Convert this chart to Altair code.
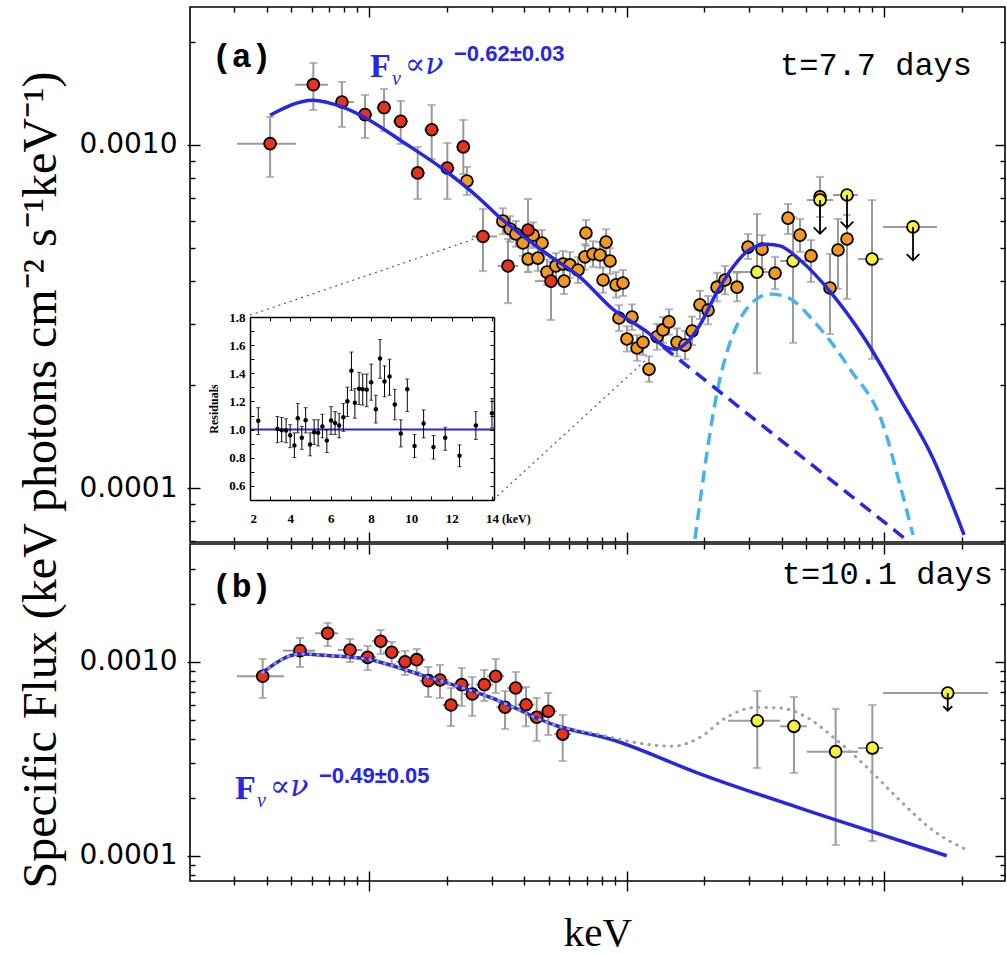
import altair as alt
import pandas as pd

# ---------------- panel (a): t = 7.7 days ----------------
a_red_E = [0.413, 0.608, 0.785, 0.965, 1.144, 1.328, 1.752, 1.546, 2.014, 2.324, 2.771, 3.466, 4.145, 5.09]
a_red_F = [1.009e-3, 1.499e-3, 1.334e-3, 1.226e-3, 1.285e-3, 1.172e-3, 1.108e-3, 8.29e-4, 8.57e-4, 9.87e-4,
           5.41e-4, 4.44e-4, 5.65e-4, 4.01e-4]
a_red_Elo = [0.307, 0.516, 0.745, 0.90, 1.07, 1.24, 1.64, 1.45, 1.89, 2.18, 2.51, 3.17, 3.95, 4.41]
a_red_Ehi = [0.521, 0.693, 0.874, 1.03, 1.22, 1.42, 1.87, 1.65, 2.15, 2.48, 3.14, 3.79, 4.35, 5.77]
a_red_Flo = [8.07e-4, 1.265e-3, 1.129e-3, 1.048e-3, 1.099e-3, 1.007e-3, 9.10e-4, 6.96e-4, 6.96e-4, 8.23e-4,
             4.29e-4, 3.46e-4, 4.26e-4, 3.09e-4]
a_red_Fhi = [1.207e-3, 1.734e-3, 1.527e-3, 1.398e-3, 1.456e-3, 1.344e-3, 1.308e-3, 9.87e-4, 1.014e-3, 1.183e-3,
             6.51e-4, 5.32e-4, 6.96e-4, 4.56e-4]

a_org_E = [2.40, 3.31, 3.53, 3.72, 3.96, 4.34, 4.70, 4.15, 4.53, 4.91, 5.32, 5.67, 6.03, 6.48, 5.72, 6.90, 7.41,
           7.89, 8.63, 6.96, 8.33, 8.11, 9.11, 9.69, 9.35, 10.50, 10.04, 10.99, 11.59, 12.23, 13.14, 13.86, 14.62,
           15.71, 16.87, 17.97, 19.29, 20.73, 22.46, 24.13, 26.86, 29.64, 33.60, 37.74, 42.39, 47.19, 52.07, 61.70,
           66.28, 71.83, 56.43]
a_org_F = [7.85e-4, 6.00e-4, 5.69e-4, 5.50e-4, 5.18e-4, 5.46e-4, 5.18e-4, 4.65e-4, 4.68e-4, 4.26e-4, 4.44e-4,
           4.50e-4, 4.47e-4, 4.32e-4, 4.01e-4, 4.72e-4, 4.81e-4, 4.78e-4, 4.59e-4, 5.54e-4, 5.21e-4, 4.04e-4,
           3.91e-4, 3.96e-4, 3.13e-4, 3.15e-4, 2.72e-4, 2.56e-4, 2.66e-4, 2.22e-4, 2.76e-4, 2.89e-4, 3.05e-4,
           2.66e-4, 2.61e-4, 2.87e-4, 3.42e-4, 3.30e-4, 3.85e-4, 4.04e-4, 3.85e-4, 5.04e-4, 4.97e-4, 4.23e-4,
           6.12e-4, 5.46e-4, 4.75e-4, 3.83e-4, 4.94e-4, 5.32e-4, 7.06e-4]
a_org_Fhi = [8.63e-4, 6.54e-4, 6.20e-4, 6.00e-4, 5.65e-4, 5.95e-4, 5.65e-4, 5.07e-4, 5.10e-4, 4.64e-4, 4.84e-4,
             4.91e-4, 4.87e-4, 4.71e-4, 4.37e-4, 5.14e-4, 5.24e-4, 5.21e-4, 5.00e-4, 6.04e-4, 5.68e-4, 4.40e-4,
             4.26e-4, 4.32e-4, 3.41e-4, 3.43e-4, 2.96e-4, 2.79e-4, 2.90e-4, 2.42e-4, 3.01e-4, 3.15e-4, 3.32e-4,
             2.92e-4, 2.87e-4, 3.16e-4, 3.76e-4, 3.63e-4, 4.24e-4, 4.44e-4, 4.24e-4, 5.50e-4, 5.46e-4, 4.72e-4,
             6.73e-4, 6.09e-4, 5.28e-4, 4.81e-4, 6.09e-4, 6.25e-4, 8.07e-4]
a_org_Flo = [7.15e-4, 5.50e-4, 5.22e-4, 5.05e-4, 4.75e-4, 5.01e-4, 4.75e-4, 4.27e-4, 4.29e-4, 3.91e-4, 4.07e-4,
             4.13e-4, 4.10e-4, 3.96e-4, 3.68e-4, 4.33e-4, 4.41e-4, 4.39e-4, 4.21e-4, 5.08e-4, 4.78e-4, 3.71e-4,
             3.59e-4, 3.63e-4, 2.87e-4, 2.89e-4, 2.50e-4, 2.35e-4, 2.44e-4, 2.04e-4, 2.53e-4, 2.65e-4, 2.80e-4,
             2.42e-4, 2.37e-4, 2.61e-4, 3.11e-4, 3.00e-4, 3.50e-4, 3.67e-4, 3.50e-4, 4.65e-4, 4.35e-4, 3.80e-4,
             5.50e-4, 4.88e-4, 3.99e-4, 2.81e-4, 3.81e-4, 3.56e-4, 6.17e-4]

a_yel_E = [32.13, 44.33, 56.43, 71.83, 89.83, 129.6]
a_yel_F = [4.26e-4, 4.59e-4, 6.91e-4, 7.15e-4, 4.65e-4, 5.77e-4]
a_yel_Elo = [25.9, 39.5, 50.2, 63.4, 79.3, 99.1]
a_yel_Ehi = [39.5, 50.2, 63.4, 79.3, 99.1, 160.6]
a_yel_Flo = [2.16e-4, 2.65e-4, None, None, 2.38e-4, None]
a_yel_Fhi = [6.29e-4, 6.17e-4, None, None, 6.91e-4, None]
a_yel_tip = [None, None, 5.51e-4, 5.73e-4, None, 4.61e-4]   # upper-limit arrow ends

a_model_E = [0.413, 0.606, 0.785, 0.982, 1.355, 1.938, 2.698, 3.142, 4.913, 6.598, 8.863, 12.02, 14.11, 15.43,
             17.18, 19.29, 22.46, 25.92, 30.18, 35.12, 39.47, 47.19, 63.37, 85.90, 115.4, 155.0, 204.6]
a_model_F = [1.221e-3, 1.350e-3, 1.291e-3, 1.193e-3, 1.020e-3, 8.51e-4, 6.96e-4, 6.25e-4, 4.81e-4, 4.12e-4,
             3.32e-4, 2.85e-4, 2.58e-4, 2.54e-4, 2.66e-4, 2.99e-4, 3.73e-4, 4.41e-4, 4.97e-4, 5.14e-4, 5.08e-4,
             4.62e-4, 3.65e-4, 2.66e-4, 1.82e-4, 1.22e-4, 7.30e-5]
a_pl_E = [13.86, 125.0]
a_pl_F = [2.58e-4, 6.97e-5]
a_hump_E = [18.45, 19.29, 20.54, 22.46, 24.56, 27.60, 30.99, 36.08, 42.01, 54.94, 73.80, 99.1, 115.4, 129.6]
a_hump_F = [7.10e-5, 9.10e-5, 1.27e-4, 1.90e-4, 2.49e-4, 3.11e-4, 3.49e-4, 3.68e-4, 3.60e-4, 2.99e-4, 2.22e-4,
            1.53e-4, 1.02e-4, 7.30e-5]
conn_id = [0, 0, 1, 1]
conn_E = [0.345, 2.698, 3.03, 12.02]
conn_F = [3.19e-4, 5.39e-4, 9.22e-5, 2.38e-4]

# inset: residuals
res_E = [2.41, 3.36, 3.57, 3.79, 3.99, 4.20, 4.37, 4.57, 4.76, 4.98, 5.18, 5.38, 5.59, 5.81, 6.02, 6.22, 6.42,
         6.63, 6.83, 7.03, 7.20, 7.41, 7.59, 7.79, 8.01, 8.24, 8.45, 8.67, 8.92, 9.18, 9.48, 9.80, 10.16, 10.61,
         11.10, 11.68, 12.39, 13.20, 14.0]
res_R = [1.063, 1.005, 0.995, 0.993, 0.960, 0.888, 1.081, 0.942, 1.067, 0.895, 0.981, 0.977, 1.023, 0.923,
         1.065, 1.047, 1.030, 1.088, 1.202, 1.419, 1.191, 1.291, 1.286, 1.284, 1.337, 1.144, 1.505, 1.342,
         1.377, 1.179, 0.972, 1.286, 0.884, 1.044, 0.877, 0.942, 0.814, 1.030, 1.116]
res_hi = [1.156, 1.093, 1.086, 1.077, 1.035, 0.977, 1.186, 1.023, 1.156, 0.977, 1.070, 1.070, 1.109, 1.000,
          1.163, 1.128, 1.116, 1.186, 1.302, 1.551, 1.291, 1.407, 1.395, 1.395, 1.465, 1.244, 1.640, 1.453,
          1.500, 1.286, 1.070, 1.360, 0.965, 1.140, 0.958, 1.016, 0.891, 1.128, 1.221]
res_lo = [0.965, 0.907, 0.914, 0.907, 0.872, 0.802, 0.977, 0.860, 0.977, 0.814, 0.895, 0.884, 0.942, 0.837,
          0.965, 0.965, 0.942, 0.988, 1.093, 1.279, 1.081, 1.179, 1.174, 1.163, 1.209, 1.047, 1.365, 1.233,
          1.244, 1.070, 0.877, 1.128, 0.802, 0.942, 0.791, 0.853, 0.737, 0.930, 1.012]
res_ref_E = [2.0, 14.1]
res_ref_R = [1.0, 1.0]

# ---------------- panel (b): t = 10.1 days ----------------
b_red_E = [0.3866, 0.5395, 0.6912, 0.8437, 0.9885, 1.110, 1.225, 1.380, 1.532, 1.699, 1.887, 2.082, 2.291,
           2.519, 2.804, 3.105, 3.375, 3.713, 4.072, 4.479, 4.970, 5.652]
b_red_F = [8.44e-4, 1.144e-3, 1.406e-3, 1.153e-3, 1.057e-3, 1.279e-3, 1.122e-3, 1.003e-3, 1.028e-3, 8.01e-4,
           8.08e-4, 6.00e-4, 7.64e-4, 6.84e-4, 7.64e-4, 8.44e-4, 5.84e-4, 7.34e-4, 6.02e-4, 5.19e-4, 5.57e-4,
           4.25e-4]
b_red_Elo = [0.307, 0.4636, 0.617, 0.758, 0.915, 1.028, 1.134, 1.278, 1.419, 1.573, 1.747, 1.928, 2.121, 2.332,
             2.596, 2.875, 3.125, 3.438, 3.770, 4.147, 4.602, 5.233]
b_red_Ehi = [0.4677, 0.617, 0.758, 0.939, 1.068, 1.199, 1.323, 1.490, 1.655, 1.835, 2.038, 2.249, 2.474, 2.721,
             3.028, 3.353, 3.645, 4.010, 4.398, 4.837, 5.368, 6.104]
b_red_Fhi = [1.036e-3, 1.329e-3, 1.589e-3, 1.314e-3, 1.209e-3, 1.462e-3, 1.268e-3, 1.139e-3, 1.167e-3,
             9.42e-4, 9.65e-4, 7.34e-4, 9.31e-4, 8.37e-4, 9.09e-4, 1.036e-3, 7.09e-4, 8.88e-4, 7.43e-4, 6.52e-4,
             6.92e-4, 5.33e-4]
b_red_Flo = [6.52e-4, 9.42e-4, 1.209e-3, 1.0e-3, 9.09e-4, 1.100e-3, 9.76e-4, 8.57e-4, 8.88e-4, 6.60e-4,
             6.52e-4, 4.68e-4, 5.93e-4, 5.27e-4, 6.29e-4, 6.92e-4, 4.52e-4, 5.79e-4, 4.66e-4, 3.92e-4, 4.20e-4,
             3.09e-4]

b_yel_E = [32.2, 44.7, 64.9, 90.1, 176.8]
b_yel_F = [4.98e-4, 4.66e-4, 3.45e-4, 3.60e-4, 6.92e-4]
b_yel_Elo = [24.8, 39.5, 50.2, 79.3, 99.1]
b_yel_Ehi = [39.5, 50.2, 79.3, 99.1, 253.5]
b_yel_Flo = [2.84e-4, 2.68e-4, 1.14e-4, 1.195e-4, None]
b_yel_Fhi = [7.09e-4, 6.60e-4, 5.73e-4, 6.00e-4, None]
b_yel_tip = [None, None, None, None, 5.61e-4]

b_model_E = [0.3866, 0.5395, 0.7058, 0.9796, 1.625, 2.951, 5.357, 8.63, 19.29, 63.55, 175.2]
b_model_F = [8.85e-4, 1.100e-3, 1.078e-3, 1.036e-3, 8.50e-4, 6.58e-4, 4.69e-4, 4.01e-4, 2.65e-4, 1.55e-4, 1.003e-4]
b_dot_E = [0.3866, 0.5395, 0.7058, 0.9796, 1.625, 2.951, 5.357, 7.89, 10.63, 15.20, 19.29, 24.49, 32.04, 39.47,
           50.10, 63.55, 85.67, 115.4, 155.4, 206.4]
b_dot_F = [8.85e-4, 1.100e-3, 1.078e-3, 1.036e-3, 8.50e-4, 6.58e-4, 4.69e-4, 4.22e-4, 3.86e-4, 3.68e-4, 4.09e-4,
           5.19e-4, 5.84e-4, 5.79e-4, 5.19e-4, 4.09e-4, 2.87e-4, 1.93e-4, 1.35e-4, 1.087e-4]

# ---------------- axes ----------------
X_DOM = [0.2018, 295.0]
YA_DOM = [6.96e-5, 2.525e-3]
YB_DOM = [7.43e-5, 4.057e-3]
MAJ_X = [1, 10, 100]
MIN_X = [0.3, 0.4, 0.5, 0.6, 0.7, 0.8, 0.9, 2, 3, 4, 5, 6, 7, 8, 9, 20, 30, 40, 50, 60, 70, 80, 90, 200]
MAJ_Y = [1e-4, 1e-3]
MIN_YA = [7e-5, 8e-5, 9e-5, 2e-4, 3e-4, 4e-4, 5e-4, 6e-4, 7e-4, 8e-4, 9e-4, 2e-3]
MIN_YB = [8e-5, 9e-5, 2e-4, 3e-4, 4e-4, 5e-4, 6e-4, 7e-4, 8e-4, 9e-4, 2e-3, 3e-3]
IX_DOM = [2.0, 14.1]
IY_DOM = [0.5, 1.8]
IX_LAB = [2, 4, 6, 8, 10, 12, 14]
IY_LAB = [0.6, 0.8, 1.0, 1.2, 1.4, 1.6, 1.8]
IX_TCK = [2, 3, 4, 5, 6, 7, 8, 9, 10, 11, 12, 13, 14]
IY_TCK = [0.5, 0.6, 0.7, 0.8, 0.9, 1.0, 1.1, 1.2, 1.3, 1.4, 1.5, 1.6, 1.7, 1.8]

W, HA, HB = 815, 535, 337
GREY = "#9a9a9a"
BLUE = "#2626e6"
LBLUE = "#45b4ee"
RED, ORG, YEL = "#e8321c", "#f39a1e", "#f6f33a"
DUMMY = pd.DataFrame({"x": [1.0], "y": [1e-3]})
ONE = pd.DataFrame({"a": [0]})


def sx():
    return alt.Scale(type="log", domain=X_DOM, nice=False)


def sy(dom):
    return alt.Scale(type="log", domain=dom, nice=False)


def ex(f):
    return alt.X(f, type="quantitative", scale=sx(), axis=None)


def ey(f, dom):
    return alt.Y(f, type="quantitative", scale=sy(dom), axis=None)


def tick_axis(orient, offset, values, size):
    return alt.Axis(orient=orient, offset=offset, values=values, tickSize=size, tickWidth=1.4,
                    tickColor="black", labels=False, domain=False, grid=False, title=None, zindex=2)


def axis_layer(dom, xaxis, yaxis):
    return alt.Chart(DUMMY).mark_point(opacity=0).encode(
        x=alt.X("x:Q", scale=sx(), axis=xaxis),
        y=alt.Y("y:Q", scale=sy(dom), axis=yaxis))


def frames(groups):
    pts, xe, ye, caps, ul = [], [], [], [], []
    for g, E, F, Elo, Ehi, Flo, Fhi, tip in groups:
        for i in range(len(E)):
            pts.append({"E": E[i], "F": F[i], "g": g})
            if Elo is not None:
                xe.append({"lo": Elo[i], "hi": Ehi[i], "F": F[i]})
            if Flo is not None and Flo[i] is not None:
                ye.append({"E": E[i], "lo": Flo[i], "hi": Fhi[i]})
                caps.append({"E": E[i], "F": Flo[i]})
                caps.append({"E": E[i], "F": Fhi[i]})
            if tip is not None and tip[i] is not None:
                ul.append({"E": E[i], "F": F[i], "tip": tip[i]})
    return (pd.DataFrame(pts), pd.DataFrame(xe), pd.DataFrame(ye), pd.DataFrame(caps), pd.DataFrame(ul))


def data_layers(dom, groups, ah_size):
    pts, xe, ye, caps, ul = frames(groups)
    return [
        alt.Chart(xe).mark_rule(color=GREY, strokeWidth=2).encode(x=ex("lo"), x2=alt.X2("hi"), y=ey("F", dom)),
        alt.Chart(ye).mark_rule(color=GREY, strokeWidth=2).encode(x=ex("E"), y=ey("lo", dom), y2=alt.Y2("hi")),
        alt.Chart(caps).mark_tick(color=GREY, orient="horizontal", size=8, thickness=2).encode(
            x=ex("E"), y=ey("F", dom)),
        alt.Chart(pts).mark_circle(size=140, opacity=1, stroke="black", strokeWidth=1.8).encode(
            x=ex("E"), y=ey("F", dom),
            fill=alt.Fill("g:N", scale=alt.Scale(domain=["red", "org", "yel"], range=[RED, ORG, YEL]),
                          legend=None)),
        alt.Chart(ul).mark_rule(color="black", strokeWidth=1.8).encode(x=ex("E"), y=ey("F", dom),
                                                                         y2=alt.Y2("tip")),
        alt.Chart(ul).mark_point(shape="M -1 -1 L 0 0 L 1 -1", filled=False, stroke="black", strokeWidth=1.8,
                                 size=ah_size, opacity=1).encode(x=ex("E"), y=ey("tip", dom)),
    ]


def line(E, F, dom, **mk):
    return alt.Chart(pd.DataFrame({"E": E, "F": F})).mark_line(clip=True, **mk).encode(
        x=ex("E"), y=ey("F", dom))


def text(t, x, y, **kw):
    kw.setdefault("baseline", "alphabetic")
    return alt.Chart(ONE).mark_text(text=t, x=x, y=y, **kw)


def formula(x0, yb, expo):
    return [
        text("F", x0, yb, font="Liberation Serif", fontSize=34, fontWeight="bold", color=BLUE, align="left"),
        text("ν", x0 + 22, yb + 8, font="Liberation Serif", fontSize=20, fontStyle="italic",
             color=BLUE, align="left"),
        text("∝ν", x0 + 35, yb - 3, font="DejaVu Serif", fontSize=30, fontStyle="italic", color=BLUE,
             align="left"),
        text(expo, x0 + 84, yb - 16, font="Liberation Sans", fontSize=22, fontWeight="bold",
             color=BLUE, align="left"),
    ]


LABEL_Y = dict(orient="left", values=MAJ_Y, format=".4f", tickSize=3, tickWidth=1.4, tickColor="black",
               labelFont="DejaVu Sans", labelFontSize=28, labelPadding=10, labelColor="black",
               domain=False, grid=False, title=None)

# ---------------- panel (a) ----------------
groupsA = [
    ("org", a_org_E, a_org_F, None, None, a_org_Flo, a_org_Fhi, None),
    ("red", a_red_E, a_red_F, a_red_Elo, a_red_Ehi, a_red_Flo, a_red_Fhi, None),
    ("yel", a_yel_E, a_yel_F, a_yel_Elo, a_yel_Ehi, a_yel_Flo, a_yel_Fhi, a_yel_tip),
]
conn = pd.DataFrame({"id": conn_id, "E": conn_E, "F": conn_F})
layersA = data_layers(YA_DOM, groupsA, 160) + [
    alt.Chart(conn).mark_line(color="#555555", strokeWidth=1.2, strokeDash=[2, 4]).encode(
        x=ex("E"), y=ey("F", YA_DOM), detail="id:N"),
    line(a_hump_E, a_hump_F, YA_DOM, color=LBLUE, strokeWidth=3.5, strokeDash=[12, 7], interpolate="monotone"),
    line(a_pl_E, a_pl_F, YA_DOM, color=BLUE, strokeWidth=3.5, strokeDash=[13, 8]),
    line(a_model_E, a_model_F, YA_DOM, color=BLUE, strokeWidth=3.5, interpolate="monotone"),
    text("(a)", 22, 60, font="Liberation Mono", fontSize=33, fontWeight="bold", align="left"),
    text("t=7.7 days", 782, 68, font="Liberation Mono", fontSize=32, align="right"),
] + formula(180, 70, "−0.62±0.03") + [
    axis_layer(YA_DOM, None, alt.Axis(**LABEL_Y)),
    axis_layer(YA_DOM, tick_axis("top", -HA, MAJ_X, 10), tick_axis("right", -W, MAJ_Y, 10)),
    axis_layer(YA_DOM, tick_axis("top", -HA, MIN_X, 5), tick_axis("right", -W, MIN_YA, 5)),
    axis_layer(YA_DOM, tick_axis("bottom", -HA, MAJ_X, 10), tick_axis("left", -W, MAJ_Y, 10)),
    axis_layer(YA_DOM, tick_axis("bottom", -HA, MIN_X, 5), tick_axis("left", -W, MIN_YA, 5)),
]
mainA = alt.layer(*layersA).resolve_axis(x="independent", y="independent")

# inset
ISX = alt.Scale(domain=IX_DOM, range=[60, 304], nice=False, zero=False)
ISY = alt.Scale(domain=IY_DOM, range=[493, 310], nice=False, zero=False)


def ix(f, axis=None):
    return alt.X(f, type="quantitative", scale=ISX, axis=axis)


def iy(f, axis=None):
    return alt.Y(f, type="quantitative", scale=ISY, axis=axis)


res = pd.DataFrame({"E": res_E, "R": res_R, "lo": res_lo, "hi": res_hi})
rcaps = pd.DataFrame({"E": res_E + res_E, "R": res_lo + res_hi})
rref = pd.DataFrame({"E": res_ref_E, "R": res_ref_R})
IDUM = pd.DataFrame({"x": [8.0], "y": [1.0]})


def itick(orient, offset, values):
    return alt.Axis(orient=orient, offset=offset, values=values, tickSize=4, tickWidth=1, tickColor="black",
                    labels=False, domain=True, domainColor="black", domainWidth=1.5, grid=False, title=None,
                    zindex=2)


inset = alt.layer(
    alt.Chart(rref).mark_line(color=BLUE, strokeWidth=2).encode(x=ix("E"), y=iy("R")),
    alt.Chart(res).mark_rule(color="black", strokeWidth=1).encode(x=ix("E"), y=iy("lo"), y2=alt.Y2("hi")),
    alt.Chart(rcaps).mark_tick(color="black", orient="horizontal", size=4, thickness=1).encode(
        x=ix("E"), y=iy("R")),
    alt.Chart(res).mark_circle(color="black", size=20, opacity=1).encode(x=ix("E"), y=iy("R")),
    alt.Chart(IDUM).mark_point(opacity=0).encode(
        x=ix("x:Q", alt.Axis(orient="bottom", offset=493 - HA, values=IX_LAB, ticks=False,
                              labelFont="Liberation Serif", labelFontSize=13, labelFontWeight="bold",
                              labelPadding=12, labelColor="black", domain=False, grid=False, title=None,
                              zindex=2)),
        y=iy("y:Q", alt.Axis(orient="left", offset=-60, values=IY_LAB, format=".1f", ticks=False,
                              labelFont="Liberation Serif", labelFontSize=13, labelFontWeight="bold",
                              labelPadding=5, labelColor="black", domain=False, grid=False,
                              title="Residuals", titleFont="Liberation Serif", titleFontSize=12,
                              titleFontWeight="bold", titlePadding=8, titleColor="black", zindex=2))),
    alt.Chart(IDUM).mark_point(opacity=0).encode(
        x=ix("x:Q", itick("top", -493, IX_TCK)), y=iy("y:Q", itick("right", 60 - W, IY_TCK))),
    alt.Chart(IDUM).mark_point(opacity=0).encode(
        x=ix("x:Q", itick("bottom", 310 - HA, IX_TCK)), y=iy("y:Q", itick("left", -304, IY_TCK))),
    text("(keV)", 312, 512, font="Liberation Serif", fontSize=12, fontWeight="bold", align="left",
         baseline="middle"),
).resolve_axis(x="independent", y="independent")

panelA = alt.layer(mainA, inset).resolve_scale(x="independent", y="independent").properties(
    width=W, height=HA)

# ---------------- panel (b) ----------------
groupsB = [
    ("red", b_red_E, b_red_F, b_red_Elo, b_red_Ehi, b_red_Flo, b_red_Fhi, None),
    ("yel", b_yel_E, b_yel_F, b_yel_Elo, b_yel_Ehi, b_yel_Flo, b_yel_Fhi, b_yel_tip),
]
layersB = data_layers(YB_DOM, groupsB, 80) + [
    line(b_model_E, b_model_F, YB_DOM, color=BLUE, strokeWidth=3.5, interpolate="monotone"),
    line(b_dot_E, b_dot_F, YB_DOM, color="#a0a0a0", strokeWidth=3, strokeDash=[0.5, 7], strokeCap="round",
         interpolate="monotone"),
    text("(b)", 22, 53, font="Liberation Mono", fontSize=33, fontWeight="bold", align="left"),
    text("t=10.1 days", 803, 40, font="Liberation Mono", fontSize=32, align="right"),
] + formula(45, 255, "−0.49±0.05") + [
    axis_layer(YB_DOM,
               alt.Axis(orient="bottom", values=MAJ_X, tickSize=10, tickWidth=1.4, tickColor="black",
                        labels=False, domain=False, grid=False, title="keV", titleFont="Liberation Serif",
                        titleFontSize=41, titleFontWeight="normal", titlePadding=22, titleColor="black"),
               alt.Axis(**LABEL_Y)),
    axis_layer(YB_DOM, tick_axis("bottom", 0, MIN_X, 4), None),
    axis_layer(YB_DOM, tick_axis("top", -HB, MAJ_X, 10), tick_axis("right", -W, MAJ_Y, 10)),
    axis_layer(YB_DOM, tick_axis("top", -HB, MIN_X, 5), tick_axis("right", -W, MIN_YB, 5)),
    axis_layer(YB_DOM, tick_axis("bottom", -HB, MAJ_X, 10), tick_axis("left", -W, MAJ_Y, 10)),
    axis_layer(YB_DOM, tick_axis("bottom", -HB, MIN_X, 5), tick_axis("left", -W, MIN_YB, 5)),
]
panelB = alt.layer(*layersB).resolve_axis(x="independent", y="independent").properties(width=W, height=HB)

chart = alt.vconcat(panelA, panelB, spacing=-6).properties(
    title=alt.TitleParams(text="Specific Flux (keV photons cm⁻² s⁻¹keV⁻¹)", orient="left", anchor="middle",
                          font="Liberation Serif", fontSize=48, fontWeight="normal", color="black", offset=12),
    padding={"left": 18, "top": 5, "right": 0, "bottom": 0},
).configure_view(stroke="black", strokeWidth=1.6)

chart.save("out.html", embed_options={"renderer": "svg", "actions": False})
